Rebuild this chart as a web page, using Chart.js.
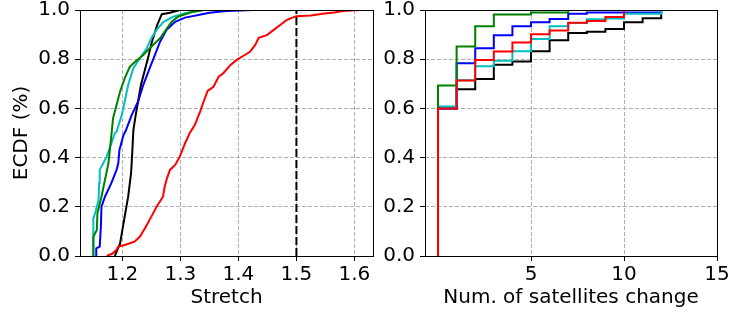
<!DOCTYPE html>
<html lang="en">
<head>
<meta charset="UTF-8" />
<title>ECDF of stretch and satellite changes</title>
<style>
  body { margin: 0; background: #fff; }
  .wrap { position: relative; width: 730px; height: 336px; }
  #stretchChart { position: absolute; left: 0; top: 0; }
  #satChart { position: absolute; left: 380px; top: 0; }
</style>
<script src="https://cdn.jsdelivr.net/npm/chart.js"></script>
</head>
<body>
<div class="wrap">
  <canvas id="stretchChart" width="380" height="336"></canvas>
  <canvas id="satChart" width="350" height="336"></canvas>
</div>
<script>
// left panel: ECDF of stretch
const redStretch = [1.173,1.183,1.190,1.193,1.204,1.221,1.230,1.239,1.250,1.259,1.270,1.273,1.276,1.282,1.291,1.299,1.308,1.316,1.325,1.334,1.340,1.347,1.357,1.366,1.374,1.386,1.397,1.411,1.420,1.429,1.435,1.449,1.461,1.472,1.483,1.492,1.500,1.525,1.545,1.565,1.580,1.610];
const redEcdf = [0,0.010,0.025,0.038,0.045,0.058,0.078,0.113,0.160,0.200,0.241,0.282,0.309,0.350,0.370,0.404,0.458,0.499,0.533,0.587,0.627,0.671,0.688,0.729,0.743,0.776,0.797,0.817,0.830,0.858,0.887,0.898,0.919,0.939,0.959,0.968,0.975,0.978,0.985,0.990,0.996,1.0];

const blackStretch = [1.187,1.196,1.204,1.210,1.215,1.217,1.219,1.223,1.227,1.232,1.238,1.244,1.251,1.260,1.268,1.282,1.299];
const blackEcdf = [0,0.050,0.160,0.241,0.336,0.417,0.512,0.573,0.627,0.695,0.749,0.803,0.871,0.939,0.983,0.989,1.0];

const blueStretch = [1.155,1.155,1.161,1.163,1.164,1.170,1.181,1.190,1.193,1.195,1.202,1.206,1.216,1.227,1.236,1.247,1.256,1.265,1.276,1.291,1.308,1.331,1.350,1.380,1.426];
const blueEcdf = [0,0.031,0.038,0.119,0.200,0.241,0.296,0.350,0.377,0.431,0.492,0.510,0.573,0.627,0.695,0.763,0.817,0.871,0.919,0.952,0.969,0.980,0.989,0.996,1.0];

const cyanStretch = [1.150,1.150,1.153,1.159,1.160,1.161,1.167,1.173,1.179,1.187,1.190,1.199,1.204,1.210,1.219,1.230,1.242,1.250,1.259,1.271,1.288,1.308,1.331,1.340];
const cyanEcdf = [0,0.153,0.173,0.228,0.296,0.350,0.377,0.404,0.444,0.499,0.505,0.573,0.627,0.695,0.763,0.803,0.844,0.885,0.919,0.952,0.973,0.987,0.997,1.0];

const greenStretch = [1.150,1.150,1.156,1.157,1.164,1.170,1.176,1.179,1.182,1.184,1.190,1.196,1.204,1.213,1.222,1.236,1.250,1.265,1.273,1.285,1.296,1.319,1.340];
const greenEcdf = [0,0.078,0.106,0.173,0.241,0.309,0.377,0.444,0.512,0.560,0.614,0.668,0.722,0.770,0.790,0.817,0.851,0.885,0.912,0.952,0.973,0.991,1.0];

const limitStretch = [1.5, 1.5];
const limitEcdf = [0, 1];

const stretchTicks = [1.2, 1.3, 1.4, 1.5, 1.6];
const ecdfTicks = [0, 0.2, 0.4, 0.6, 0.8, 1.0];

// right panel: ECDF of number of satellite changes, value at x = 0, 1, 2, ...
const blackSat = [0.600,0.678,0.720,0.777,0.791,0.832,0.877,0.906,0.912,0.923,0.950,0.966,1.0,1.0,1.0];
const blueSat = [0.600,0.784,0.845,0.897,0.934,0.950,0.963,0.985,0.990,0.990,0.990,0.990,1.0];
const cyanSat = [0.608,0.714,0.771,0.794,0.832,0.882,0.934,0.947,0.962,0.965,0.985,0.985,1.0];
const greenSat = [0.693,0.852,0.934,0.982,0.982,0.990,0.990,1.0];
const redSat = [0.600,0.713,0.797,0.831,0.868,0.901,0.917,0.948,0.955,0.972,1.0,1.0];

const satTicks = [5, 10, 15];

Chart.defaults.font.family = '"DejaVu Sans", sans-serif';
Chart.defaults.font.size = 20;
Chart.defaults.color = '#000';

const FONT = { family: '"DejaVu Sans", sans-serif', size: 20, lineHeight: 1 };

function zip(xs, ys) {
  return xs.map((x, i) => ({ x: x, y: ys[i] }));
}

// ECDF step: start from 0 at x = 0
function steps(vals) {
  return [{ x: 0, y: 0 }].concat(vals.map((v, i) => ({ x: i, y: v })));
}

function line(data, color, extra) {
  return Object.assign({
    data: data,
    borderColor: color,
    backgroundColor: color,
    borderWidth: 2,
    pointRadius: 0,
    fill: false,
    tension: 0
  }, extra || {});
}

function fixSize(size, horizontal) {
  return function (scale) {
    if (horizontal) scale.height = size; else scale.width = size;
    scale.paddingTop = 0; scale.paddingBottom = 0;
    scale.paddingLeft = 0; scale.paddingRight = 0;
  };
}

function useTicks(list) {
  return function (scale) {
    scale.ticks = list.map(v => ({ value: v }));
  };
}

const gridOpts = { color: '#b0b0b0', lineWidth: 1, tickLength: 5, tickColor: '#000', tickWidth: 1 };
const borderOpts = { display: false, dash: [4, 2] };

// box around the plotting area
const frame = {
  id: 'frame',
  afterDatasetsDraw(chart) {
    const { ctx, chartArea: a } = chart;
    ctx.save();
    ctx.strokeStyle = '#000';
    ctx.lineWidth = 1;
    ctx.strokeRect(Math.round(a.left) + 0.5, Math.round(a.top) + 0.5,
      Math.round(a.right - a.left), Math.round(a.bottom - a.top));
    ctx.restore();
  }
};

function yScale(width, withTitle) {
  return {
    type: 'linear', min: 0, max: 1,
    afterBuildTicks: useTicks(ecdfTicks),
    afterFit: fixSize(width, false),
    grid: gridOpts, border: borderOpts,
    ticks: { font: FONT, padding: 5, callback: v => v.toFixed(1) },
    title: withTitle
      ? { display: true, text: 'ECDF (%)', font: { size: 20 }, padding: { top: 10, bottom: 0 } }
      : { display: false }
  };
}

function baseOptions() {
  return {
    responsive: false,
    animation: false,
    plugins: { legend: { display: false }, tooltip: { enabled: false } }
  };
}

// left chart
const stretchOpts = baseOptions();
stretchOpts.layout = { padding: { left: 0, right: 7, top: 10, bottom: 0 } };
stretchOpts.scales = {
  x: {
    type: 'linear', min: 1.127, max: 1.632,
    afterBuildTicks: useTicks(stretchTicks),
    afterFit: fixSize(80, true),
    grid: gridOpts, border: borderOpts,
    ticks: { font: FONT, padding: 4, maxRotation: 0, callback: v => v.toFixed(1) },
    title: { display: true, text: 'Stretch', font: { size: 20 }, padding: { top: 0, bottom: 26 } }
  },
  y: yScale(80, true)
};

new Chart(document.getElementById('stretchChart'), {
  type: 'line',
  data: {
    datasets: [
      line(zip(redStretch, redEcdf), '#ff0000'),
      line(zip(limitStretch, limitEcdf), '#000000', { borderDash: [8, 3] }),
      line(zip(greenStretch, greenEcdf), '#008000'),
      line(zip(cyanStretch, cyanEcdf), '#00bfbf'),
      line(zip(blueStretch, blueEcdf), '#0000ff'),
      line(zip(blackStretch, blackEcdf), '#000000')
    ]
  },
  options: stretchOpts,
  plugins: [frame]
});

// right chart
const satOpts = baseOptions();
satOpts.layout = { padding: { left: 0, right: 13, top: 10, bottom: 0 } };
satOpts.scales = {
  x: {
    type: 'linear', min: -0.7, max: 15,
    afterBuildTicks: useTicks(satTicks),
    afterFit: fixSize(80, true),
    grid: gridOpts, border: borderOpts,
    ticks: { font: FONT, padding: 4, maxRotation: 0 },
    title: { display: true, text: 'Num. of satellites change', font: { size: 20 }, padding: { top: 0, bottom: 26 } }
  },
  y: yScale(45, false)
};

new Chart(document.getElementById('satChart'), {
  type: 'line',
  data: {
    datasets: [
      line(steps(redSat), '#ff0000', { stepped: 'before' }),
      line(steps(greenSat), '#008000', { stepped: 'before' }),
      line(steps(cyanSat), '#00bfbf', { stepped: 'before' }),
      line(steps(blueSat), '#0000ff', { stepped: 'before' }),
      line(steps(blackSat), '#000000', { stepped: 'before' })
    ]
  },
  options: satOpts,
  plugins: [frame]
});
</script>
</body>
</html>
